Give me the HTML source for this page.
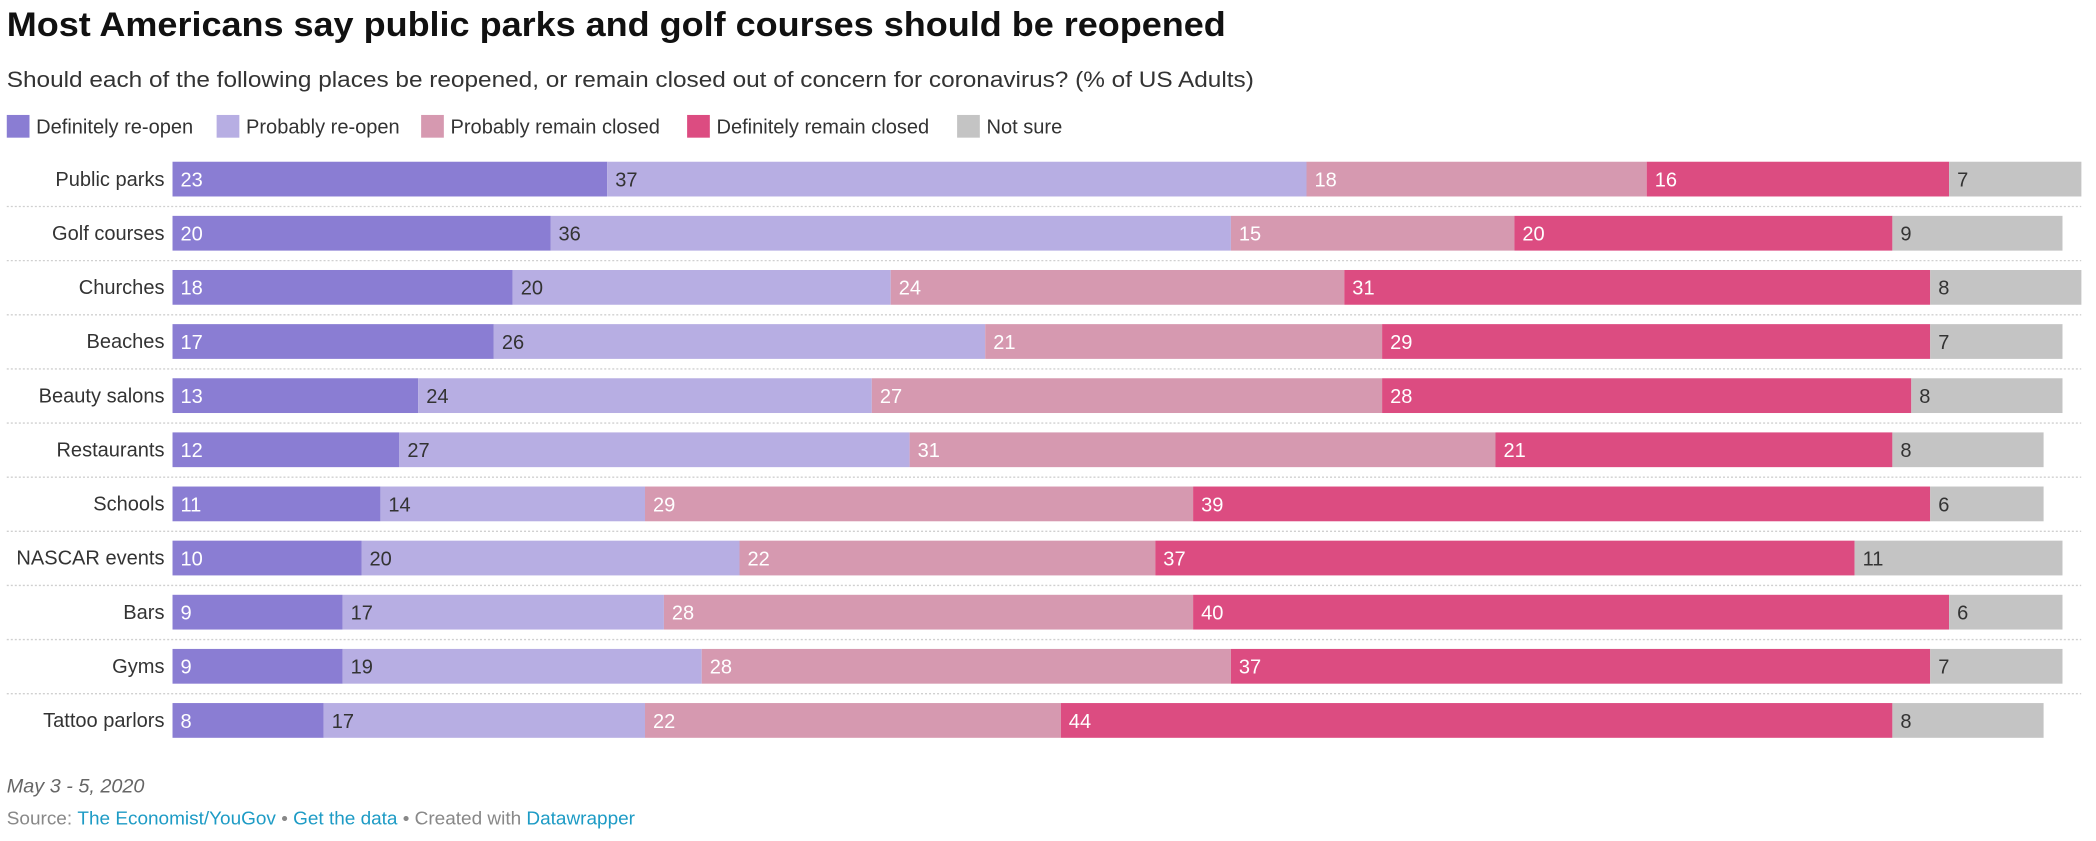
<!DOCTYPE html>
<html><head><meta charset="utf-8">
<style>
html,body{margin:0;padding:0;background:#fff;}
svg{display:block;}
text{font-family:"Liberation Sans",sans-serif;}
</style></head>
<body>
<svg id="chart" width="2096" height="841" viewBox="0 0 1568 629.2" xmlns="http://www.w3.org/2000/svg">
<text x="5" y="27" font-size="25.5" font-weight="bold" fill="#111" textLength="912" lengthAdjust="spacingAndGlyphs">Most Americans say public parks and golf courses should be reopened</text>
<text x="5" y="65" font-size="16.5" fill="#333" textLength="933" lengthAdjust="spacingAndGlyphs">Should each of the following places be reopened, or remain closed out of concern for coronavirus? (% of US Adults)</text>
<g id="legend"></g>
<g id="rows"></g>
<text x="5" y="593" font-size="14.5" font-style="italic" fill="#666" textLength="103" lengthAdjust="spacingAndGlyphs">May 3 - 5, 2020</text>
<text x="5" y="617" font-size="13.5" fill="#888" textLength="470" lengthAdjust="spacingAndGlyphs">Source: <tspan fill="#1d9bc5">The Economist/YouGov</tspan> • <tspan fill="#1d9bc5">Get the data</tspan> • Created with <tspan fill="#1d9bc5">Datawrapper</tspan></text>
</svg>
<script>
const categories = ["Public parks","Golf courses","Churches","Beaches","Beauty salons","Restaurants","Schools","NASCAR events","Bars","Gyms","Tattoo parlors"];
const definitelyReopen = [23,20,18,17,13,12,11,10,9,9,8];
const probablyReopen = [37,36,20,26,24,27,14,20,17,19,17];
const probablyClosed = [18,15,24,21,27,31,29,22,28,28,22];
const definitelyClosed = [16,20,31,29,28,21,39,37,40,37,44];
const notSure = [7,9,8,7,8,8,6,11,6,7,8];
const seriesNames = ["Definitely re-open","Probably re-open","Probably remain closed","Definitely remain closed","Not sure"];

const NS="http://www.w3.org/2000/svg";
const colors=["#8a7dd3","#b7aee3","#d699b0","#dc4c81","#c4c4c4"];
const textColors=["#fff","#333","#fff","#fff","#333"];
const series=[definitelyReopen,probablyReopen,probablyClosed,definitelyClosed,notSure];
const x0=129, unit=14.14, rowTop=121, pitch=40.5, barH=26;
const xScale=v=>x0+v*unit;
const yScale=i=>rowTop+i*pitch;
function mk(tag,attrs){const e=document.createElementNS(NS,tag);for(const k in attrs)e.setAttribute(k,attrs[k]);return e;}

const lg=document.getElementById('legend');
const legendX=[5,162,315,514,716];
seriesNames.forEach((n,i)=>{
  const g=mk('g',{});
  
  
  g.appendChild(mk('rect',{x:legendX[i],y:86,width:17,height:17,fill:colors[i]}));
  const t=mk('text',{x:legendX[i]+22,y:100,'font-size':15,fill:'#333'});
  t.textContent=n;g.appendChild(t);lg.appendChild(g);
});

const rows=document.getElementById('rows');
categories.forEach((c,i)=>{
  const y=yScale(i);
  const g=mk('g',{});
  
  
  const lab=mk('text',{x:123,y:y+18,'font-size':15,fill:'#333','text-anchor':'end'});
  
  
  lab.textContent=c;g.appendChild(lab);
  let cum=0;
  series.forEach((s,k)=>{
    const v=s[i];
    const r=mk('rect',{x:xScale(cum),y:y,width:xScale(cum+v)-xScale(cum),height:barH,fill:colors[k]});
    
    
    g.appendChild(r);
    const t=mk('text',{x:xScale(cum)+6,y:y+18.5,'font-size':15,fill:textColors[k]});
    
    
    t.textContent=v;g.appendChild(t);
    cum+=v;
  });
  if(i<categories.length-1){
    const l=mk('line',{x1:5,x2:1557,y1:y+barH+7.5,y2:y+barH+7.5,stroke:'#d0d0d0','stroke-width':1,'stroke-dasharray':'1.5 1.5'});
    
    
    g.appendChild(l);
  }
  rows.appendChild(g);
});
</script>
</body></html>
